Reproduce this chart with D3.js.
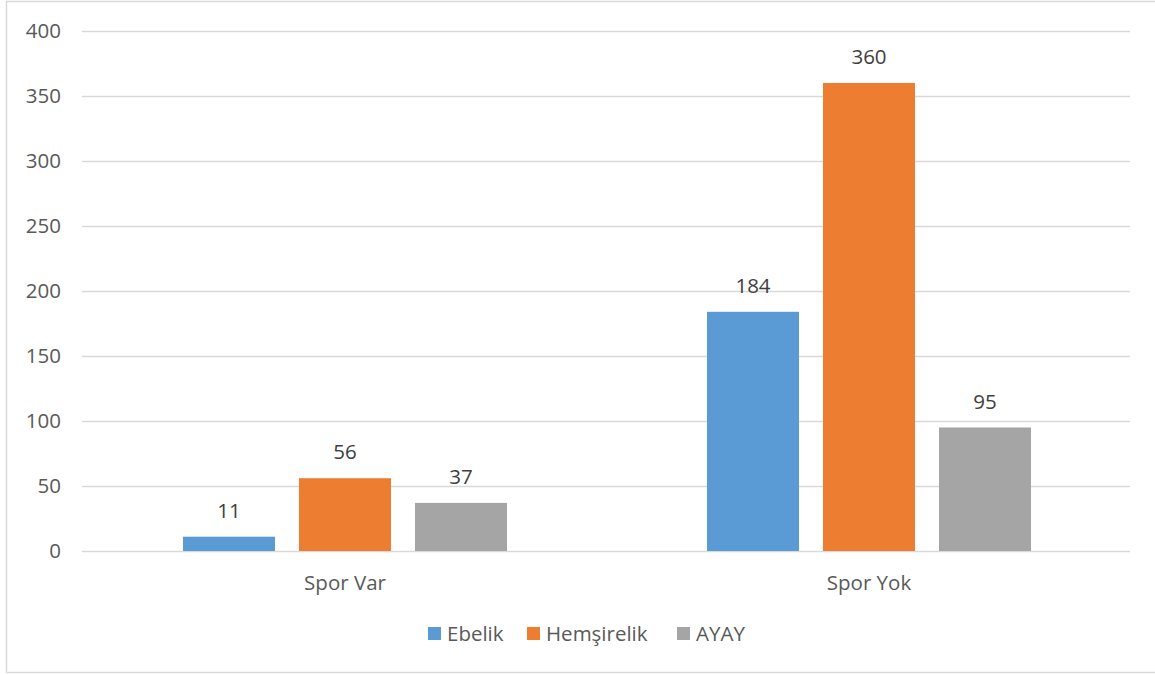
<!DOCTYPE html>
<html lang="tr">
  <head>
    <meta charset="UTF-8" />
    <title>Spor Var / Spor Yok</title>
    <style>
      body { margin: 0; background: #fff; }
      text { font-family: "Open Sans", sans-serif; }
    </style>
  </head>
  <body>
    <script src="https://d3js.org/d3.v7.min.js"></script>
    <script>
      const width = 1155
      const height = 675

      // data
      const categories = ["Spor Var", "Spor Yok"]
      const seriesNames = ["Ebelik", "Hemşirelik", "AYAY"]
      const ebelik = [11, 184]
      const hemsirelik = [56, 360]
      const ayay = [37, 95]
      const yTicks = [0, 50, 100, 150, 200, 250, 300, 350, 400]
      const colors = ["#5b9bd5", "#ed7d31", "#a5a5a5"]

      const values = [ebelik, hemsirelik, ayay]
      const fontSize = 20.5

      const svg = d3.select("body").append("svg")
        .attr("width", width)
        .attr("height", height)

      // chart border
      svg.append("rect")
        .attr("x", 6.5).attr("y", 1.5)
        .attr("width", 1152).attr("height", 671)
        .attr("fill", "#fff")
        .attr("stroke", "#d9d9d9")
        .attr("stroke-width", 1.5)

      const plotLeft = 82, plotRight = 1130
      const y = d3.scaleLinear().domain([0, 400]).range([551, 31])

      const x0 = d3.scaleBand().domain(categories).range([plotLeft + 1, plotRight + 1])
      const x1 = d3.scaleBand().domain(seriesNames)
        .range([0, x0.bandwidth()])
        .paddingInner(24 / 116)
        .paddingOuter(0.862)

      // gridlines
      svg.append("g").selectAll("line")
        .data(yTicks)
        .join("line")
        .attr("x1", plotLeft).attr("x2", plotRight)
        .attr("y1", d => Math.round(y(d)) + 0.5)
        .attr("y2", d => Math.round(y(d)) + 0.5)
        .attr("stroke", "#d9d9d9")
        .attr("stroke-width", 1.3)

      // y labels
      svg.append("g").selectAll("text")
        .data(yTicks)
        .join("text")
        .attr("x", 61)
        .attr("y", d => y(d))
        .attr("dy", "0.36em")
        .attr("text-anchor", "end")
        .attr("font-size", fontSize)
        .attr("fill", "#595959")
        .text(d => d)

      // bars
      const groups = svg.append("g").selectAll("g")
        .data(seriesNames)
        .join("g")
        .attr("fill", (d, i) => colors[i])

      groups.selectAll("rect")
        .data((s, si) => categories.map((c, ci) => ({ s, c, v: values[si][ci] })))
        .join("rect")
        .attr("x", d => x0(d.c) + x1(d.s))
        .attr("y", d => y(d.v))
        .attr("width", x1.bandwidth())
        .attr("height", d => y(0) - y(d.v))

      // data labels
      groups.selectAll("text")
        .data((s, si) => categories.map((c, ci) => ({ s, c, v: values[si][ci] })))
        .join("text")
        .attr("x", d => x0(d.c) + x1(d.s) + x1.bandwidth() / 2)
        .attr("y", d => y(d.v) - 19)
        .attr("text-anchor", "middle")
        .attr("font-size", fontSize)
        .attr("fill", "#404040")
        .text(d => d.v)

      // category labels
      svg.append("g").selectAll("text")
        .data(categories)
        .join("text")
        .attr("x", d => x0(d) + x0.bandwidth() / 2)
        .attr("y", 590)
        .attr("text-anchor", "middle")
        .attr("font-size", fontSize)
        .attr("fill", "#595959")
        .text(d => d)

      // legend
      const legendX = [428, 527, 677]
      const legend = svg.append("g").selectAll("g")
        .data(seriesNames)
        .join("g")
        .attr("transform", (d, i) => `translate(${legendX[i]},627)`)
      legend.append("rect")
        .attr("width", 13).attr("height", 13)
        .attr("fill", (d, i) => colors[i])
      legend.append("text")
        .attr("x", 19).attr("y", 6.5)
        .attr("dy", "0.36em")
        .attr("font-size", fontSize)
        .attr("fill", "#595959")
        .text(d => d)
    </script>
  </body>
</html>
